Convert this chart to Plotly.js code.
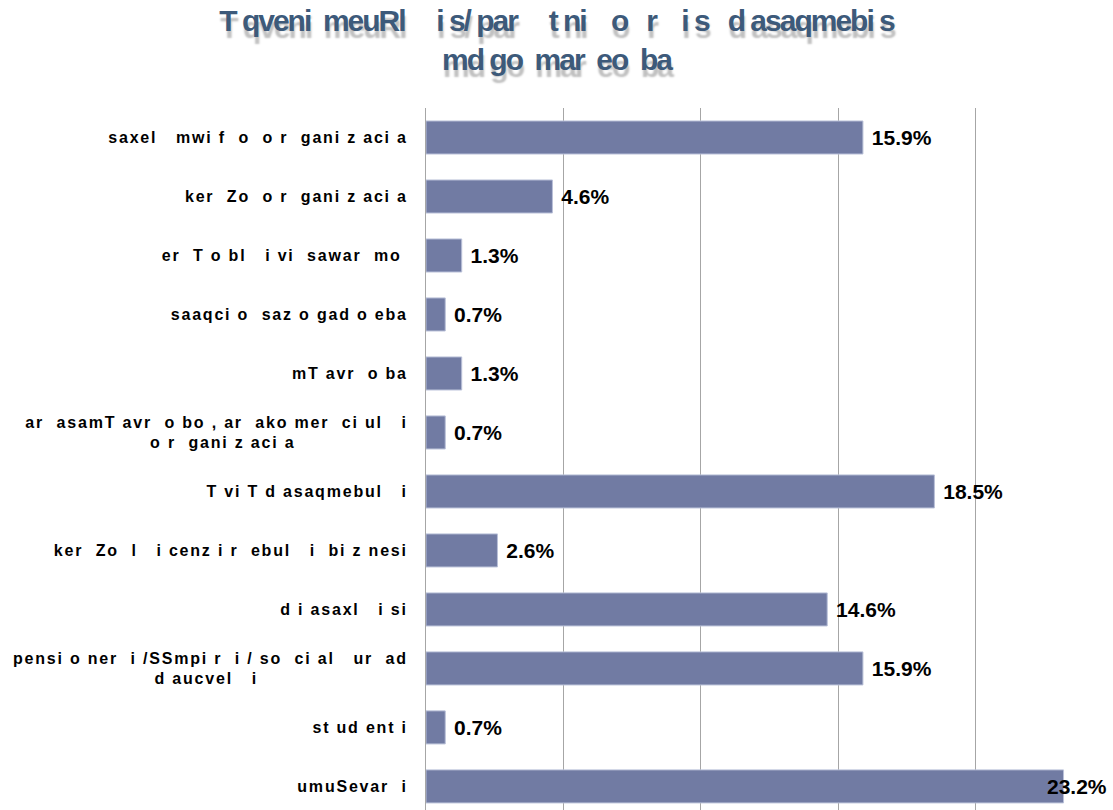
<!DOCTYPE html>
<html>
<head>
<meta charset="utf-8">
<script src="https://cdn.plot.ly/plotly-3.0.1.min.js"></script>
<style>
html,body{margin:0;padding:0;background:#fff;}
#chart{width:1113px;height:810px;}
#chart .ytick text{letter-spacing:1.8px !important;}
#chart .gtitle{letter-spacing:-2px !important;}
</style>
</head>
<body>
<div id="chart"></div>
<script>
var NB = '\u00a0';
function pad(n){ return NB.repeat(n); }

var categories = [
  'saxel   mwi f  o  o r  gani z aci a',
  'ker  Zo  o r  gani z aci a',
  'er  T o bl   i vi  sawar  mo ',
  'saaqci o  saz o gad o eba',
  'mT avr  o ba',
  'ar  asamT avr  o bo , ar  ako mer  ci ul   i<br>o r  gani z aci a' + pad(18),
  'T vi T d asaqmebul   i',
  'ker  Zo  l   i cenz i r  ebul   i  bi z nesi',
  'd i asaxl   i si',
  'pensi o ner  i /SSmpi r  i / so  ci al   ur  ad<br>d aucvel   i' + pad(24),
  'st ud ent i',
  'umuSevar  i'
];
var values = [15.9, 4.6, 1.3, 0.7, 1.3, 0.7, 18.5, 2.6, 14.6, 15.9, 0.7, 23.2];
var valueLabels = ['15.9%', '4.6%', '1.3%', '0.7%', '1.3%', '0.7%', '18.5%', '2.6%', '14.6%', '15.9%', '0.7%', '23.2%'];
var titleText = 'T qveni  meuRl     i s/ par     t ni    o   r    i s   d asaqmebi s<br>md go  mar  eo  ba';

var xMax = 25;
var idx = categories.map(function(c, i){ return i; });
// labels that would run past the right edge are pulled back over the bar end (as in the original)
var overflow = values.map(function(v){ return v > 22; });

var labelFont = {family: 'Liberation Sans, Arial, sans-serif', size: 21, color: '#000', weight: 'bold'};

var trace = {
  type: 'bar',
  orientation: 'h',
  y: idx,
  x: values,
  text: valueLabels.map(function(t, i){ return overflow[i] ? '' : NB + t; }),
  textposition: 'outside',
  cliponaxis: false,
  constraintext: 'none',
  textfont: labelFont,
  marker: {color: '#717ba3', line: {color: '#b9c0d8', width: 1}},
  width: 0.56,
  hoverinfo: 'none'
};

var annotations = [];
values.forEach(function(v, i){
  if (overflow[i]) {
    annotations.push({
      x: v, y: i, xref: 'x', yref: 'y',
      text: valueLabels[i], showarrow: false,
      xanchor: 'left', yanchor: 'middle', xshift: -19,
      font: labelFont
    });
  }
});

var layout = {
  width: 1113,
  height: 810,
  margin: {l: 426, r: 0, t: 108, b: 0, pad: 0},
  paper_bgcolor: '#ffffff',
  plot_bgcolor: '#ffffff',
  showlegend: false,
  title: {
    text: titleText,
    x: 0.5, xanchor: 'center',
    y: 0.962, yanchor: 'top',
    font: {family: 'Liberation Sans, Arial, sans-serif', size: 30, color: '#3d5a7a', weight: 'bold', shadow: '1px 7px 2px rgba(0,0,0,0.25)'}
  },
  annotations: annotations,
  xaxis: {
    range: [0, xMax],
    dtick: 5,
    tick0: 0,
    showgrid: true,
    gridcolor: '#a6a6a6',
    gridwidth: 1,
    zeroline: false,
    showticklabels: false,
    ticks: '',
    showline: false,
    fixedrange: true
  },
  yaxis: {
    range: [11.4, -0.5],
    tickmode: 'array',
    tickvals: idx,
    ticktext: categories,
    ticks: '',
    ticklabelstandoff: 14,
    showgrid: false,
    zeroline: false,
    showline: true,
    linecolor: '#a6a6a6',
    linewidth: 1,
    tickfont: {family: 'Liberation Sans, Arial, sans-serif', size: 16, color: '#000', weight: 'bold'},
    fixedrange: true
  }
};

Plotly.newPlot('chart', [trace], layout, {displayModeBar: false, staticPlot: true});
</script>
</body>
</html>
